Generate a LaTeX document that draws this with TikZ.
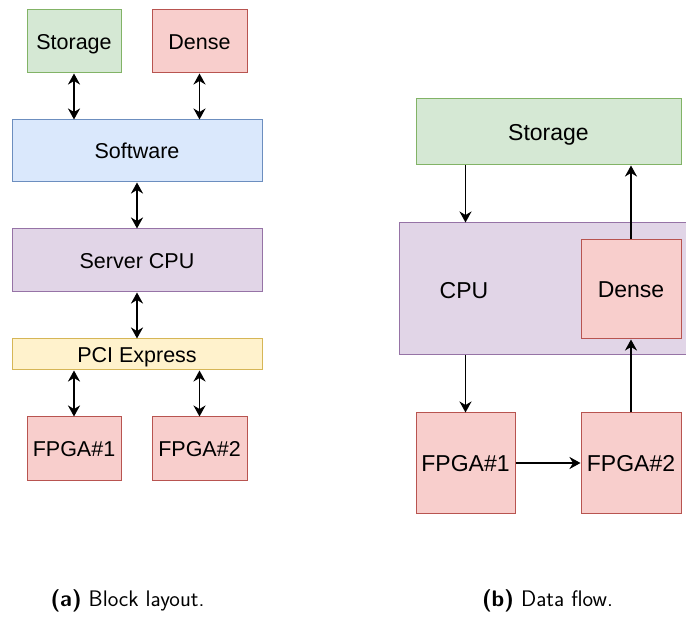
\documentclass[tikz,border=0pt]{standalone}
\usepackage{fontspec}
\setmainfont{Liberation Sans}
\newfontfamily\capfont{Latin Modern Sans}
\usetikzlibrary{arrows.meta}

\definecolor{grnfill}{HTML}{D5E8D4}\definecolor{grnline}{HTML}{82B366}
\definecolor{redfill}{HTML}{F8CECC}\definecolor{redline}{HTML}{B85450}
\definecolor{blufill}{HTML}{DAE8FC}\definecolor{bluline}{HTML}{6C8EBF}
\definecolor{purfill}{HTML}{E1D5E7}\definecolor{purline}{HTML}{9673A6}
\definecolor{yelfill}{HTML}{FFF2CC}\definecolor{yelline}{HTML}{D6B656}

\tikzset{
  blk/.style={draw, line width=1pt, inner sep=0pt, text height=15.4pt, text depth=0pt,
              font=\fontsize{21.5}{24}\selectfont},
  bigblk/.style={blk, text height=16.5pt, font=\fontsize{23}{26}\selectfont},
  grnbox/.style={fill=grnfill, draw=grnline},
  redbox/.style={fill=redfill, draw=redline},
  blubox/.style={fill=blufill, draw=bluline},
  purbox/.style={fill=purfill, draw=purline},
  yelbox/.style={fill=yelfill, draw=yelline},
  sz/.style n args={2}{minimum width=#1pt, minimum height=#2pt},
  link/.style={line width=1.9pt, -{Stealth[length=11pt,width=12pt,inset=3.5pt]}},
  blink/.style={line width=1.9pt, {Stealth[length=11pt,width=12pt,inset=3.5pt]}-{Stealth[length=11pt,width=12pt,inset=3.5pt]}},
  captxt/.style={inner sep=0pt, font=\capfont\fontsize{22.5}{25}\selectfont}
}

\begin{document}
\begin{tikzpicture}[x=1pt, y=-1pt]
\clip (0,0) rectangle (686,644);

% (a) block layout
\node[blk, grnbox, sz={94}{63}]  (lsto) at (74,41.5)    {Storage};
\node[blk, redbox, sz={95}{63}]  (lden) at (199.5,41.5) {Dense};
\node[blk, blubox, sz={250}{62}] (soft) at (137,151)    {Software};
\node[blk, purbox, sz={250}{63}] (scpu) at (137,260.5)  {Server CPU};
\node[blk, yelbox, sz={250}{31}] (pci)  at (137,354.5)  {PCI Express};
\node[blk, redbox, sz={94}{63}]  (lf1)  at (74,448.5)   {FPGA\#1};
\node[blk, redbox, sz={95}{63}]  (lf2)  at (199.5,448.5){FPGA\#2};

\draw[blink] (lsto.south) -- (lsto.south |- soft.north);
\draw[blink] (lden.south) -- (lden.south |- soft.north);
\draw[blink] (soft.south) -- (scpu.north);
\draw[blink] (scpu.south) -- (pci.north);
\draw[blink] (lf1.north |- pci.south) -- (lf1.north);
\draw[blink] (lf2.north |- pci.south) -- (lf2.north);

% (b) data flow
\node[bigblk, grnbox, sz={265}{66}]  (rsto) at (548.5,132) {Storage};
\node[bigblk, purbox, sz={289}{132}] (cpu)  at (543.5,289) {};
\node[bigblk, draw=none] (cpulbl) at (464,290) {CPU};
\node[bigblk, redbox, sz={100}{99}]  (rden) at (631,289.5) {Dense};
\node[bigblk, redbox, sz={99}{100}]  (rf1)  at (465.5,463) {FPGA\#1};
\node[bigblk, redbox, sz={100}{100}] (rf2)  at (631,463)   {FPGA\#2};

\draw[link] (rf1.north |- rsto.south) -- (rf1.north |- cpu.north);
\draw[link] (rden.north) -- (rden.north |- rsto.south);
\draw[link] (rf1.north |- cpu.south) -- (rf1.north);
\draw[link] (rf2.north) -- (rden.south);
\draw[link] (rf1.east) -- (rf2.west);

% captions
\node[captxt] (capa) at (127.5,601) {\textbf{(a)} Block layout.};
\node[captxt] (capb) at (547.5,601) {\textbf{(b)} Data flow.};
\end{tikzpicture}
\end{document}
